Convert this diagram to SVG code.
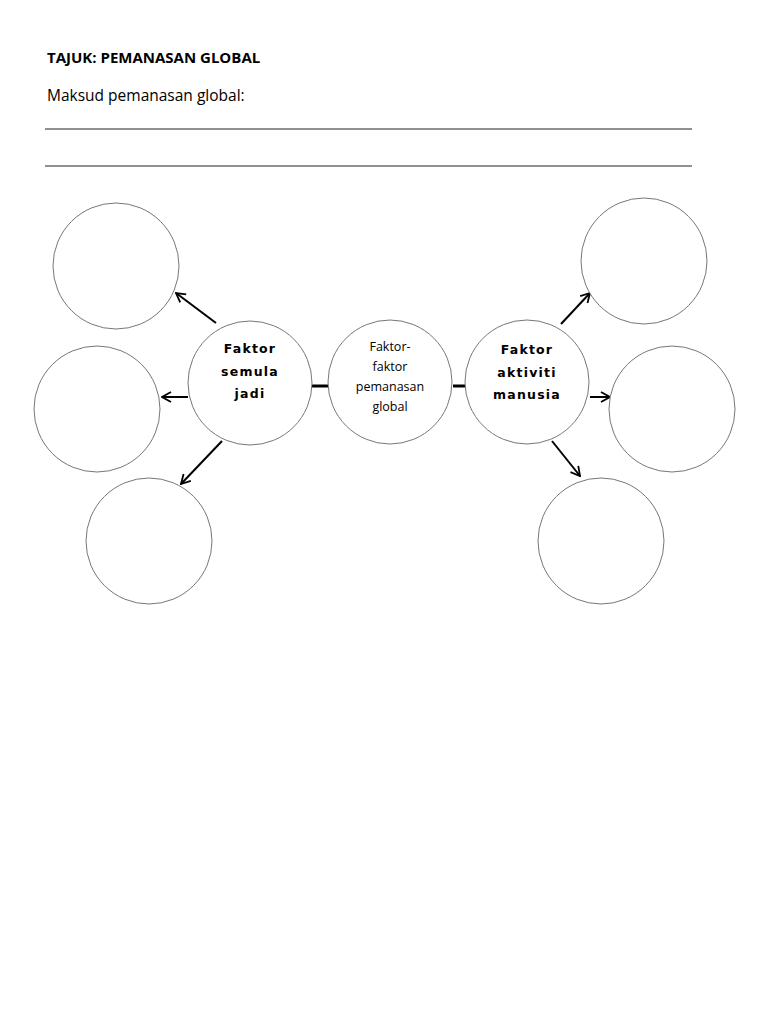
<svg xmlns="http://www.w3.org/2000/svg" width="768" height="1024" viewBox="0 0 768 1024">
<style>
.bg{fill:#fff}
.c{fill:#fff;stroke:#777;stroke-width:1}
.h{font-family:"Open Sans","Liberation Sans",sans-serif;fill:#000}
.n{font-family:"DejaVu Sans","Liberation Sans",sans-serif;font-weight:bold;font-size:12.5px;letter-spacing:1.2px;text-anchor:middle;fill:#000}
.m{font-family:"Open Sans","Liberation Sans",sans-serif;font-size:12.5px;text-anchor:middle;fill:#000}
.a{stroke:#000;stroke-width:2;fill:none}
.t{stroke:#000;stroke-width:3;fill:none}
.r{stroke:#222;stroke-width:1.2}
</style>
<defs>
<marker id="arr" viewBox="0 0 12 12" refX="11" refY="6" markerWidth="12" markerHeight="12" markerUnits="userSpaceOnUse" orient="auto">
<polyline points="2,1 11,6 2,11" fill="none" stroke="#000" stroke-width="1.8"/>
</marker>
</defs>
<rect class="bg" x="0" y="0" width="768" height="1024"/>
<text class="h" x="47" y="63" font-size="15" font-weight="bold">TAJUK: PEMANASAN GLOBAL</text>
<text class="h" x="47" y="101" font-size="15.5">Maksud pemanasan global:</text>
<line class="r" x1="45" y1="129" x2="692" y2="129"/>
<line class="r" x1="45" y1="166" x2="692" y2="166"/>
<g id="connectors">
<line class="t" x1="312" y1="386" x2="328" y2="386"/>
<line class="t" x1="453" y1="386" x2="465" y2="386"/>
<line class="a" x1="216" y1="323" x2="176" y2="293" marker-end="url(#arr)"/>
<line class="a" x1="188" y1="397" x2="162" y2="397" marker-end="url(#arr)"/>
<line class="a" x1="222" y1="441" x2="181" y2="484" marker-end="url(#arr)"/>
<line class="a" x1="561" y1="324" x2="590" y2="293" marker-end="url(#arr)"/>
<line class="a" x1="590" y1="397" x2="610" y2="397" marker-end="url(#arr)"/>
<line class="a" x1="552" y1="441" x2="580" y2="476" marker-end="url(#arr)"/>
</g>
<g id="tl"><circle class="c" cx="116" cy="266" r="63"/></g>
<g id="ml"><circle class="c" cx="97" cy="409" r="63"/></g>
<g id="bl"><circle class="c" cx="149" cy="541" r="63"/></g>
<g id="tr"><circle class="c" cx="644" cy="261" r="63"/></g>
<g id="mr"><circle class="c" cx="672" cy="409" r="63"/></g>
<g id="br"><circle class="c" cx="601" cy="541" r="63"/></g>
<g id="semula">
<circle class="c" cx="250" cy="383" r="62"/>
<text class="n" x="250" y="353">Faktor</text>
<text class="n" x="250" y="376">semula</text>
<text class="n" x="250" y="398">jadi</text>
</g>
<g id="pusat">
<circle class="c" cx="390" cy="382" r="62"/>
<text class="m" x="390" y="351">Faktor-</text>
<text class="m" x="390" y="371">faktor</text>
<text class="m" x="390" y="391">pemanasan</text>
<text class="m" x="390" y="411">global</text>
</g>
<g id="manusia">
<circle class="c" cx="527" cy="382" r="62"/>
<text class="n" x="527" y="354">Faktor</text>
<text class="n" x="527" y="377">aktiviti</text>
<text class="n" x="527" y="399">manusia</text>
</g>
</svg>
